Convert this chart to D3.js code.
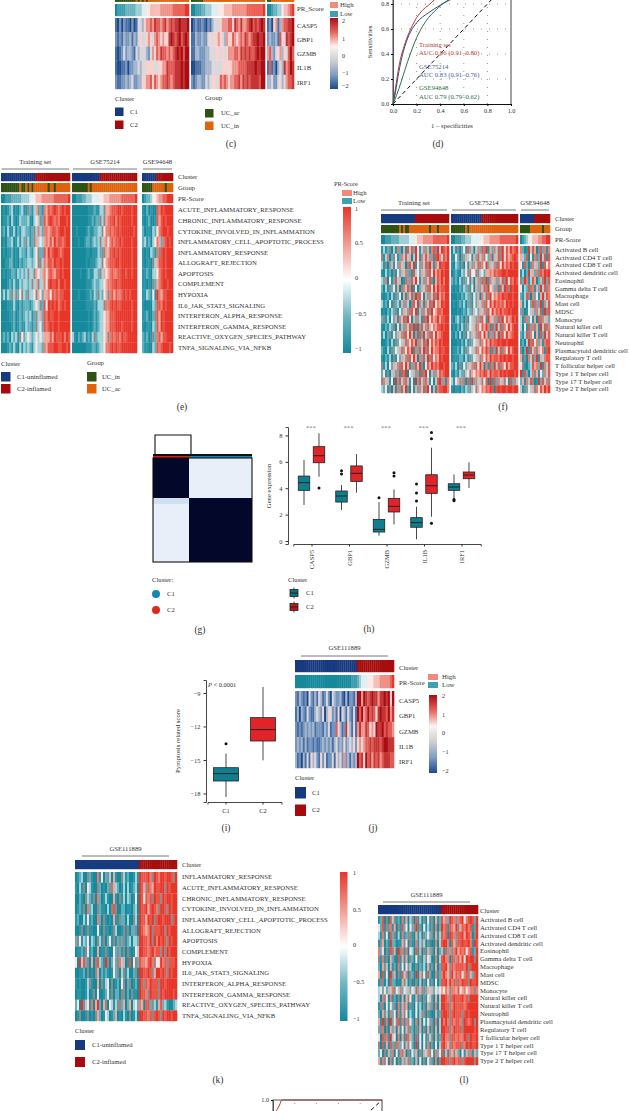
<!DOCTYPE html>
<html>
<head>
<meta charset="utf-8">
<script src="https://cdn.jsdelivr.net/npm/d3@7"></script>
<style>
  html, body { margin: 0; padding: 0; background: #fff; }
  svg { display: block; }
  text { font-family: "Liberation Serif", serif; fill: #333; }
</style>
</head>
<body>
<div id="chart"></div>
<script>
// labels
const genes = ["CASP5", "GBP1", "GZMB", "IL1B", "IRF1"];
const hallmarkE = ["ACUTE_INFLAMMATORY_RESPONSE", "CHRONIC_INFLAMMATORY_RESPONSE", "CYTOKINE_INVOLVED_IN_INFLAMMATION", "INFLAMMATORY_CELL_APOPTOTIC_PROCESS", "INFLAMMATORY_RESPONSE", "ALLOGRAFT_REJECTION", "APOPTOSIS", "COMPLEMENT", "HYPOXIA", "IL6_JAK_STAT3_SIGNALING", "INTERFERON_ALPHA_RESPONSE", "INTERFERON_GAMMA_RESPONSE", "REACTIVE_OXYGEN_SPECIES_PATHWAY", "TNFA_SIGNALING_VIA_NFKB"];
const hallmarkK = ["INFLAMMATORY_RESPONSE", "ACUTE_INFLAMMATORY_RESPONSE", "CHRONIC_INFLAMMATORY_RESPONSE", "CYTOKINE_INVOLVED_IN_INFLAMMATION", "INFLAMMATORY_CELL_APOPTOTIC_PROCESS", "ALLOGRAFT_REJECTION", "APOPTOSIS", "COMPLEMENT", "HYPOXIA", "IL6_JAK_STAT3_SIGNALING", "INTERFERON_ALPHA_RESPONSE", "INTERFERON_GAMMA_RESPONSE", "REACTIVE_OXYGEN_SPECIES_PATHWAY", "TNFA_SIGNALING_VIA_NFKB"];
const cellsF = ["Activated B cell", "Activated CD4 T cell", "Activated CD8 T cell", "Activated dendritic cell", "Eosinophil", "Gamma delta T cell", "Macrophage", "Mast cell", "MDSC", "Monocyte", "Natural killer cell", "Natural killer T cell", "Neutrophil", "Plasmacytoid dendritic cell", "Regulatory T cell", "T follicular helper cell", "Type 1 T helper cell", "Type 17 T helper cell", "Type 2 T helper cell"];

// heatmap cells, one digit per column (0 = lowest, 9 = highest), "|" between cohorts
const heatC = [
  "102021102014435667687767867878898889|012112102134445666775876866789787898|1205613677889",
  "212132231324544565467656558987897898|113223224545565436557656768767889889|2322317548789",
  "101242332143444324657687767678989799|113322233444554545666776878787789899|6732456354797",
  "100112022334344555544556687778889899|001112233344444555556667777888898899|1712034386798",
  "211223234223355667576567787678889899|212332243455457676566778687878888799|3342245346778"
];
const clusterC = ["000000000000000001111111111111111111|000000000000000001111111111111111111|0000001111111"];
const groupC = ["000000000010101011111111111111111111|000000111111111111111111111111111111|0011111111111"];
const prC = ["011112222233344556666677777788888899|001112233344455566667777777888888889|0012233566789"];

const heatE = [
  "0101230102311421364217687898789899|000000001112113346678889989999899|102010087989999",
  "0112031013222310353428689878799989|000000001121224346788979899999899|101200186898999",
  "1203113021332212437327767887899899|001000012112233457787889899999989|201103257899899",
  "0102230131324312463536768697887899|000100122123234367578788989999899|231203576278989",
  "0101120103221321354228697899878999|000000011011132446688989899999899|101032174898999",
  "0011220102122332354437688798898999|000000010111233456788899899999899|101104368898999",
  "0101122132323433465367578768898999|000010012113324365678778899899899|112103357898999",
  "0001213113233234364337589889799899|000000011123223356778898899999999|110104267899899",
  "1313243425432433546526675878788999|000100011213243256478687789898999|113215197688999",
  "0001113102122212353428598989789899|000000011112133347789898899999899|100003288798999",
  "0000112012123231243628798899899999|000000001012123356688899999999899|112002486989999",
  "0000012012113221243528789899899999|000000001012123356688899989999899|101103286989999",
  "1212032314523532353536668698889798|310212312134233356478788798899999|212014278688999",
  "0001213103132321353327688899889989|000000011122123357789898899999999|211003287899989"
];
const clusterE = ["0000000000000000011111111111111111|000000000000001111111111111111111|000000011111111"];
const groupE = ["0000000001001010111111101101111111|000000001011111111111111111111111|000001111110111"];
const prE = ["0011122222333344566677777788888889|001112233344445566677777788888889|012235567788999"];

const heatF = [
  "1312403172061838295137261784939879|031402518260372849162738495869789|720193860482717",
  "4137024512738360395173862718973879|115204263516283745271638495867898|632805174293818",
  "3140261527360483915273849617398899|103214051627384759263748596879899|518204736291857",
  "1031204152637241835263748596879899|012103254455443526676878899899999|130293627487989",
  "3270512836014728395162738406879799|212031425160372849173627384958798|429713860264928",
  "2031425160473829150263748596978899|101021324150627384956271839849899|503284716293847",
  "1012031425061738294850627384968799|000102132415260738495768798899899|213840725169387",
  "3120514231627304859261738495769899|010121302415263748596978786989899|613052847291738",
  "0102132415263748591627384956887999|000101213243526374859687978898999|240153627381948",
  "2413052617384950627318495867968899|102312041536274851963728495867989|314725160847362",
  "1021324051627384919283746576889899|010203142536475869718293847596899|305182746193847",
  "1302415263748596071829374859678999|102030415263748596172839485967899|213847506182938",
  "0012031425364758692738495868798999|000102031425364758697889899899999|120394857261788",
  "2103142536475869172839485967798899|011203142536475869718293847596899|402918374657189",
  "1021304152637485960728394857698999|011122031425364758697887989899899|614073829163788",
  "4130526374859617283940586978799899|213041526374859607182938475968899|541023867291738",
  "2514036271849053627184950627387899|102132435465768798697887989899989|918203746152738",
  "4736150928374615092837461503892717|315627408192736458091827364518273|261738401928374",
  "3251406172839405162738495061788997|101102132435465768798089899899899|314253647586979"
];
const clusterF = ["0000000000000000011111111111111111|000000000000000111111111111111111|000000011111111"];
const groupF = ["0000000001010011111111110111011111|000000010111111111111111111111111|000001111110111"];
const prF = ["0011122223333344456667777788888889|001112233344444566677777888888889|012345666778899"];

const heatJ = [
  "21321204213143124204322310302213|996987898868898959",
  "13032142113432503452315043142141|979679787589887968",
  "21212323231222132412274312843151|686687564988978776",
  "23231312212112323231342325234352|564677878887899888",
  "31203141534215241224153426231323|978597868786788877"
];
const clusterJ = ["00000000000000000000000000000000|111111111111111111"];
const prJ = ["00000000000000000000000000000111|234445556667777789"];

const heatK = [
  "01230042100715024306100431200131|988897498799899849",
  "10314053100420102446320130301230|986487698899498999",
  "00210432140720131006104130320150|985878498849899899",
  "01214072300421103048400220110230|988968987499849899",
  "12003151200720410106114220300430|988698948998999489",
  "00140141100510411014300141402240|987679488899498999",
  "24513250320431402514124241230332|998879497989849899",
  "01121451200601141005242140410153|998878978849498999",
  "50938240604832194025247360180542|877689745597848889",
  "00112040104602121015240341300240|998898469989849899",
  "10100134100604135040120540240120|984879888499899999",
  "01100130140500125140220440204110|988749888498999989",
  "25094351706920640531344260260352|760882431682310023",
  "01400140104620153012601031040130|998878489849899899"
];
const clusterK = ["00000000000000000000000000000000|111111111111111111"];

const heatL = [
  "12804083412071603408130405140612|867298747895789829",
  "52814471604182505249140513140702|978187694687978149",
  "31715082403071244106130425240613|878098748896987049",
  "14602192201164504107134304100703|899708648898897198",
  "72504184609471705308160416240602|618274796878578129",
  "41714062108161604205140345300703|897708478695989949",
  "20643061207151543004021306140602|889648788887948999",
  "60815092604183704209064518200712|797649687857846289",
  "14403082201064304004030405140502|889697848798849889",
  "35252637453725362538264426362535|657647768567567747",
  "30745071204060645106140415340603|998748988897849999",
  "14405152407164604105130406240703|998847988887899999",
  "20643172507164503105034404100612|899848988848989999",
  "61917092548171745207060515240703|979748788749878949",
  "24704062606151644204160406140603|998847988849999989",
  "50847193507061846208150514340612|897748878779849889",
  "40816182447251645209050517140503|897648788847989889",
  "25041627051746041526041637451725|816176462051627162",
  "61745071504162644206050405240704|998848978848999949"
];
const clusterL = ["00000000000000000000000000000000|111111111111111111"];

// roc curves of panel d: [1 - specificity, sensitivity]
const rocTraining = [[0,0],[.02,.12],[.05,.3],[.1,.48],[.15,.6],[.2,.69],[.25,.75],[.3,.79],[.36,.84],[.45,.9],[.6,.95],[.8,.99],[1,1]];
const roc75214 = [[0,0],[.02,.09],[.05,.26],[.1,.46],[.15,.58],[.2,.65],[.3,.73],[.4,.79],[.45,.82],[.5,.85],[.7,.95],[1,1]];
const roc94648 = [[0,0],[.03,.07],[.07,.18],[.1,.27],[.15,.41],[.2,.53],[.25,.62],[.3,.69],[.35,.74],[.42,.8],[.5,.84],[.7,.94],[1,1]];
const rocBottom = [[0,.85],[.02,.88],[.04,.91],[.06,.95],[.08,1],[1,1]];
const rocTicks = [0, .2, .4, .6, .8, 1];

// box stats: [low, q1, median, q3, high]
const boxC1 = [[2.73,3.84,4.42,4.92,6.14],[2.35,2.95,3.41,3.79,4.24],[.4,.68,.88,1.64,2.95],[.13,1.04,1.39,1.77,2.6],[3.16,3.84,4.09,4.34,5.05]];
const boxC2 = [[4.87,5.93,6.46,7.15,8.16],[3.66,4.52,5.13,5.69,6.59],[1.26,2.2,2.63,3.23,3.91],[1.84,3.61,4.19,5.02,7.07],[4.02,4.72,5,5.23,5.96]];
const outC1 = [[],[5.33,5.08],[3.28],[4.32,3.64,3.03],[3.05,3.15]];
const outC2 = [[4.02],[],[5.18,4.92],[8.23,7.75,1.34],[]];
const boxScore = [[-18.31,-16.88,-16.22,-15.69,-14.43],[-15.03,-13.3,-12.28,-11.21,-8.46]];
const outScore = [[-13.54],[]];
const clusters = ["C1", "C2"];

const blue = "#163a80", red = "#a8090f", green = "#2e5214", orange = "#e0620d";
const tealBox = "#0f7f90", redBox = "#e0242a";

const rb = d3.scaleLinear().domain([-2, -1, -.3, 0, 1, 2])
  .range(["#1c4a8c", "#7f9dc4", "#cfcfd4", "#fbf3f0", "#e8645c", "#a80d14"]);
const tr = d3.scaleLinear().domain([-1, -.5, 0, .5, 1])
  .range(["#15899b", "#6fb6c2", "#ffffff", "#f19a90", "#e8352a"]);
// cell colours of the teal/red heatmaps, the digit 4 is the muddy grey the picture shows
const cellPalette = d3.scaleOrdinal().domain(d3.range(10))
  .range(["#15899b", "#2c95a6", "#5fb0bd", "#a5d3da", "#8f8a8a", "#fbe3df", "#f2a79c", "#ee7a6e", "#ea5446", "#e8352a"]);

const svg = d3.select("#chart").append("svg").attr("width", 630).attr("height", 1111);
const defs = svg.append("defs");
defs.append("filter").attr("id", "soft")
  .append("feGaussianBlur").attr("stdDeviation", "0.5 0.25");

const label = (x, y, s, size = 6.7, anchor = "start") => svg.append("text")
  .attr("x", x).attr("y", y).attr("dy", ".32em")
  .attr("text-anchor", anchor).attr("font-size", size).text(s);

// one strip of columns for each cohort, colour comes from the callback
function strip(rows, spans, top, bottom, colorOf) {
  const y = d3.scaleBand().domain(d3.range(rows.length)).range([top, bottom]);
  const g = svg.append("g").attr("filter", "url(#soft)");
  rows.forEach((row, r) => {
    row.split("|").forEach((cells, b) => {
      const x = d3.scaleBand().domain(d3.range(cells.length)).range(spans[b]);
      g.selectAll(null).data(cells.split("")).enter().append("rect")
        .attr("x", (d, i) => x(i))
        .attr("y", y(r))
        .attr("width", x.bandwidth() + .3)
        .attr("height", y.bandwidth() + .2)
        .attr("fill", d => colorOf(+d));
    });
  });
  return y;
}

const digitColor = (scale, max) => d => scale((d - 4.5) / 4.5 * max);
const clusterColor = d => d ? red : blue;
const groupColor = d => d ? orange : green;

function rowLabels(y, names, x, off = 0) {
  names.forEach((n, i) => label(x, y(i) + y.bandwidth() / 2 + off, n));
}

function titles(items, y, lineY) {
  items.forEach(t => {
    label((t[0] + t[1]) / 2, y, t[2], 6.7, "middle");
    svg.append("line").attr("x1", t[0]).attr("x2", t[1]).attr("y1", lineY).attr("y2", lineY)
      .attr("stroke", "#555").attr("stroke-width", .8);
  });
}

function colorbar(id, scale, vals, x, w, y0, y1, ticks, labelX, size = 6.2) {
  const grad = defs.append("linearGradient").attr("id", id).attr("x1", 0).attr("x2", 0).attr("y1", 1).attr("y2", 0);
  vals.forEach((v, i) => grad.append("stop").attr("offset", i / (vals.length - 1)).attr("stop-color", scale(v)));
  svg.append("rect").attr("x", x).attr("y", y0).attr("width", w).attr("height", y1 - y0).attr("fill", `url(#${id})`);
  ticks.forEach(t => label(labelX, t[1], t[0], size));
}

function highLow(x, w, yHigh, yLow, lx, size = 6.8) {
  [[yHigh, "#ef8a7c", "High"], [yLow, "#3ea2b0", "Low"]].forEach(d => {
    svg.append("rect").attr("x", x).attr("y", d[0] - 3).attr("width", w).attr("height", 6).attr("fill", d[1]);
    label(lx, d[0], d[2], size);
  });
}

function swatches(title, tx, ty, items, x, w, h, lx, size = 6.7) {
  label(tx, ty, title, size);
  items.forEach(d => {
    svg.append("rect").attr("x", x).attr("y", d[0]).attr("width", w).attr("height", h).attr("fill", d[1]);
    label(lx, d[0] + h / 2, d[2], size);
  });
}

function panelTag(x, y, s) { label(x, y, s, 9.5, "middle"); }

const prColor = digitColor(tr, 1);

/* ---------- (c) ---------- */
const spansC = [[115, 189], [191, 265], [267, 294]];
strip(groupC, spansC, -7, 1.7, groupColor);
strip(prC, spansC, 4, 16, prColor);
const yC = strip(heatC, spansC, 18, 89, digitColor(rb, 2));
rowLabels(yC, genes, 297, .6);
label(297, 9, "PR_Score");
swatches("Cluster", 115, 99, [[107.5, blue, "C1"], [120.5, red, "C2"]], 115, 8.5, 8.5, 130);
swatches("Group", 205, 97.5, [[109, green, "UC_ac"], [121.5, orange, "UC_in"]], 205, 8.5, 8.5, 221);
highLow(330, 8, 5, 14, 340);
colorbar("barC", rb, [-2, -1, -.3, 0, 1, 2], 330, 8, 18, 89, [["2", 21], ["1", 39], ["0", 56], ["−1", 73], ["−2", 86]], 342);
panelTag(231, 144, "(c)");

/* ---------- (d) ---------- */
const xD = d3.scaleLinear().domain([0, 1]).range([393, 511]);
const yD = d3.scaleLinear().domain([0, 1]).range([104, -21]);
const rocPath = (xs, ys) => d3.line().x(d => xs(d[0])).y(d => ys(d[1])).curve(d3.curveMonotoneX);

function rocPanel(xs, ys, series, showX) {
  const g = svg.append("g");
  rocTicks.slice(1, 5).forEach(t => {
    g.append("line").attr("x1", xs(t)).attr("x2", xs(t)).attr("y1", ys(0)).attr("y2", ys(1))
      .attr("stroke", "#999").attr("stroke-width", 1).attr("stroke-dasharray", "1 7");
    g.append("line").attr("x1", xs(0)).attr("x2", xs(1)).attr("y1", ys(t)).attr("y2", ys(t))
      .attr("stroke", "#999").attr("stroke-width", 1).attr("stroke-dasharray", "1 7");
  });
  g.append("line").attr("x1", xs(0)).attr("y1", ys(0)).attr("x2", xs(1)).attr("y2", ys(1))
    .attr("stroke", "#111").attr("stroke-width", 1).attr("stroke-dasharray", "4 3");
  series.forEach(s => g.append("path").datum(s[0]).attr("d", rocPath(xs, ys))
    .attr("fill", "none").attr("stroke", s[1]).attr("stroke-width", 1));
  g.append("path").attr("d", `M${xs(0)},${ys(0)}V${ys(1)}H${xs(1)}V${ys(0)}`)
    .attr("fill", "none").attr("stroke", "#555").attr("stroke-width", 1.1);
  // only the ticks that land on the page
  const onPage = rocTicks.filter(t => ys(t) > 2 && ys(t) < 1108);
  const ax = g.append("g").attr("transform", `translate(${xs(0)},0)`)
    .call(d3.axisLeft(ys).tickValues(onPage).tickFormat(d3.format(".1f")).tickSize(2));
  ax.select(".domain").attr("stroke", "#555");
  ax.selectAll("text").attr("font-size", 6.2).attr("x", -4);
  if (showX) {
    const bx = g.append("g").attr("transform", `translate(0,${ys(0)})`)
      .call(d3.axisBottom(xs).tickValues(rocTicks).tickFormat(d3.format(".1f")).tickSize(2));
    bx.select(".domain").attr("stroke", "#111");
    bx.selectAll("text").attr("font-size", 6.2).attr("y", 5);
  }
}
rocPanel(xD, yD, [[rocTraining, "#c9352f"], [roc75214, "#27527f"], [roc94648, "#2c6e49"]], true);
label(452, 126, "1 – specificities", 6.7, "middle");
svg.append("text").attr("transform", "translate(370,42) rotate(-90)").attr("text-anchor", "middle").attr("dy", ".32em")
  .attr("font-size", 6.7).text("Sensitivities");
[[45, "Training set", "#b5413c"], [53, "AUC 0.86 (0.91–0.80)", "#b5413c"],
 [67, "GSE75214", "#4a5d94"], [75, "AUC 0.83 (0.91–0.76)", "#4a5d94"],
 [88, "GSE94648", "#2f6b4a"], [97, "AUC 0.79 (0.79–0.62)", "#2f6b4a"]].forEach(d => {
  label(419, d[0], d[1], 6.7).style("fill", d[2]);
});
panelTag(438, 144, "(d)");

/* ---------- (e) ---------- */
const spansE = [[1, 70], [72, 137], [142, 173]];
titles([[1.5, 69, "Training set"], [73, 137, "GSE75214"], [143, 172, "GSE94648"]], 162, 169);
strip(clusterE, spansE, 173, 181, clusterColor);
strip(groupE, spansE, 183, 192, groupColor);
strip(prE, spansE, 194, 203, prColor);
const yE = strip(heatE, spansE, 205, 353, cellPalette);
rowLabels(yE, hallmarkE, 178);
label(178, 177, "Cluster"); label(178, 188, "Group"); label(178, 198.5, "PR-Score");
label(334, 184, "PR-Score", 6.2);
highLow(342, 10, 193, 201, 353);
colorbar("barE", tr, [-1, -.5, 0, .5, 1], 343, 8, 207, 353, [["1", 209], ["0.5", 243], ["0", 278], ["−0.5", 314], ["−1", 349]], 355);
swatches("Cluster", 1, 364, [[372, blue, "C1-uninflamed"], [384, red, "C2-inflamed"]], 1, 9.5, 9.5, 17);
swatches("Group", 87, 363, [[372, green, "UC_in"], [384, orange, "UC_ac"]], 87, 9.5, 9.5, 102);
panelTag(182, 407, "(e)");

/* ---------- (f) ---------- */
const spansF = [[381, 449], [451, 518], [520, 550]];
titles([[381, 447, "Training set"], [452, 516, "GSE75214"], [521, 549, "GSE94648"]], 203, 210);
strip(clusterF, spansF, 214, 223, clusterColor);
strip(groupF, spansF, 225, 233, groupColor);
strip(prF, spansF, 235, 244, prColor);
const yF = strip(heatF, spansF, 246, 393, cellPalette);
rowLabels(yF, cellsF, 555);
label(555, 219, "Cluster"); label(555, 229, "Group"); label(555, 240, "PR-Score");
panelTag(503, 407, "(f)");

/* ---------- (g) ---------- */
const consensus = svg.append("g");
consensus.append("path").attr("d", "M155,454V435H191V454").attr("fill", "none").attr("stroke", "#111").attr("stroke-width", 1.1);
consensus.append("rect").attr("x", 153).attr("y", 454).attr("width", 99).attr("height", 2).attr("fill", "#111");
consensus.append("rect").attr("x", 153).attr("y", 456).attr("width", 37).attr("height", 2).attr("fill", "#d02020");
consensus.append("rect").attr("x", 190).attr("y", 456).attr("width", 62).attr("height", 2).attr("fill", "#1a84b0");
[[153, 458, 36, 40, "#03082b"], [189, 458, 63, 40, "#e9eff9"], [153, 498, 36, 6, "#cfe0f0"], [153, 504, 36, 58, "#e9eff9"], [189, 498, 63, 64, "#03082b"]]
  .forEach(d => consensus.append("rect").attr("x", d[0]).attr("y", d[1]).attr("width", d[2]).attr("height", d[3]).attr("fill", d[4]));
consensus.append("rect").attr("x", 153).attr("y", 458).attr("width", 99).attr("height", 104)
  .attr("fill", "none").attr("stroke", "#111").attr("stroke-width", 1.1);
label(152, 580, "Cluster:");
[[594, "#1a84b0", "C1"], [610, "#d92a1c", "C2"]].forEach(d => {
  svg.append("circle").attr("cx", 156).attr("cy", d[0]).attr("r", 4).attr("fill", d[1]);
  label(167, d[0], d[2]);
});
panelTag(200, 630, "(g)");

/* ---------- boxes ---------- */
function drawBox(g, cx, w, s, y, fill, outliers) {
  g.append("line").attr("x1", cx).attr("x2", cx).attr("y1", y(s[0])).attr("y2", y(s[4])).attr("stroke", "#333").attr("stroke-width", .9);
  g.append("rect").attr("x", cx - w / 2).attr("width", w).attr("y", y(s[3])).attr("height", y(s[1]) - y(s[3]))
    .attr("fill", fill).attr("stroke", "#222").attr("stroke-width", .8);
  g.append("line").attr("x1", cx - w / 2).attr("x2", cx + w / 2).attr("y1", y(s[2])).attr("y2", y(s[2])).attr("stroke", "#222").attr("stroke-width", 1);
  outliers.forEach(o => g.append("circle").attr("cx", cx).attr("cy", y(o)).attr("r", 1.5).attr("fill", "#111"));
}
function styleAxis(ax, size) {
  ax.select(".domain").attr("stroke", "#333").attr("stroke-width", .9);
  ax.selectAll(".tick line").attr("stroke", "#333");
  ax.selectAll("text").attr("font-size", size);
}

/* ---------- (h) ---------- */
const xH = d3.scaleBand().domain(genes).range([292.75, 480.25]);
const xHi = d3.scaleBand().domain(clusters).range([0, xH.bandwidth()]).paddingInner(.233).paddingOuter(.367);
const yH = d3.scaleLinear().domain([-.227, 8.64]).range([544, 427]);
const gH = svg.append("g");
genes.forEach((gene, i) => {
  drawBox(gH, xH(gene) + xHi("C1") + xHi.bandwidth() / 2, xHi.bandwidth(), boxC1[i], yH, tealBox, outC1[i]);
  drawBox(gH, xH(gene) + xHi("C2") + xHi.bandwidth() / 2, xHi.bandwidth(), boxC2[i], yH, redBox, outC2[i]);
  label(xH(gene) + xH.bandwidth() / 2 - .5, 427.5, "***", 6.7, "middle").style("fill", "#777");
});
const axHy = gH.append("g").attr("transform", "translate(288,0)").call(d3.axisLeft(yH).tickValues([0, 2, 4, 6, 8]).tickSize(2.5));
styleAxis(axHy, 6.4);
const axHx = gH.append("g").attr("transform", "translate(0.5,544)").call(d3.axisBottom(xH).tickSize(2.5));
styleAxis(axHx, 6.4);
axHx.selectAll("text").attr("transform", "rotate(-90)").attr("x", -6).attr("y", 0).attr("dy", ".32em").attr("text-anchor", "end");
svg.append("text").attr("transform", "translate(269,486) rotate(-90)").attr("text-anchor", "middle").attr("dy", ".32em")
  .attr("font-size", 6.7).text("Gene expression");
label(288, 580, "Cluster");
[[593, "#0f6f80", "C1"], [607, "#b21a1f", "C2"]].forEach(d => {
  drawBox(svg, 294, 8, [-5.5, -3.5, 0, 3.5, 5.5], v => d[0] - v, d[1], []);
  label(306, d[0], d[2]);
});
panelTag(369, 629, "(h)");

/* ---------- (i) ---------- */
const xI = d3.scaleBand().domain(clusters).range([207.5, 281.5]).paddingInner(.324).paddingOuter(.162);
const yI = d3.scaleLinear().domain([-18.76, -7.84]).range([802, 680]);
const gI = svg.append("g");
clusters.forEach((c, i) => drawBox(gI, xI(c) + xI.bandwidth() / 2, xI.bandwidth(), boxScore[i], yI, i ? redBox : tealBox, outScore[i]));
const axIy = gI.append("g").attr("transform", "translate(206,0)")
  .call(d3.axisLeft(yI).tickValues([-18, -15, -12, -9]).tickFormat(d => "−" + Math.abs(d)).tickSize(2.5));
styleAxis(axIy, 6.4);
const axIx = gI.append("g").attr("transform", "translate(0,802)").call(d3.axisBottom(xI).tickSize(2.5));
styleAxis(axIx, 6.4);
axIx.selectAll("text").attr("y", 6);
svg.append("text").attr("transform", "translate(178,741) rotate(-90)").attr("text-anchor", "middle").attr("dy", ".32em")
  .attr("font-size", 6.7).text("Pyroptosis related score");
const pText = label(208, 685, "", 6.4);
pText.append("tspan").attr("font-style", "italic").text("P");
pText.append("tspan").text(" < 0.0001");
panelTag(226, 828, "(i)");

/* ---------- (j) ---------- */
const spansJ = [[295, 357], [357, 394]];
titles([[301, 388, "GSE111889"]], 648, 656);
strip(clusterJ, spansJ, 660, 672, clusterColor);
strip(prJ, spansJ, 675, 688, prColor);
const yJ = strip(heatJ, spansJ, 691, 768, digitColor(rb, 2));
rowLabels(yJ, genes, 399, 2);
label(399, 668, "Cluster"); label(399, 683, "PR-Score");
highLow(428, 10, 677, 685, 442);
colorbar("barJ", rb, [-2, -1, -.3, 0, 1, 2], 429, 8, 695, 773, [["2", 696], ["1", 715], ["0", 733], ["−1", 752], ["−2", 771]], 442);
swatches("Cluster", 295, 778, [[787, blue, "C1"], [804.5, red, "C2"]], 295, 11, 11.5, 312);
panelTag(373, 828, "(j)");

/* ---------- (k) ---------- */
const spansK = [[75, 139], [139, 177]];
titles([[82, 169, "GSE111889"]], 849, 856);
strip(clusterK, spansK, 860, 869, clusterColor);
const yK = strip(heatK, spansK, 872, 1021, cellPalette);
rowLabels(yK, hallmarkK, 182);
label(182, 865, "Cluster");
colorbar("barK", tr, [-1, -.5, 0, .5, 1], 340, 7.5, 872, 1021, [["1", 873], ["0.5", 910], ["0", 945], ["−0.5", 982], ["−1", 1019]], 353);
swatches("Cluster", 75, 1031, [[1040, blue, "C1-uninflamed"], [1057, red, "C2-inflamed"]], 75, 10, 10, 92);
panelTag(218, 1080, "(k)");

/* ---------- (l) ---------- */
const spansL = [[378, 441], [441, 478]];
titles([[383, 470, "GSE111889"]], 895, 902);
strip(clusterL, spansL, 905, 914, clusterColor);
const yL = strip(heatL, spansL, 916, 1065, cellPalette);
rowLabels(yL, cellsF, 480);
label(480, 911, "Cluster");
panelTag(464, 1080, "(l)");

/* ---------- (m), cut off by the page ---------- */
const xM = d3.scaleLinear().domain([0, 1]).range([273, 382]);
const yM = d3.scaleLinear().domain([0, 1]).range([1200, 1100]);
rocPanel(xM, yM, [[rocBottom, "#c9352f"]], false);
</script>
</body>
</html>
